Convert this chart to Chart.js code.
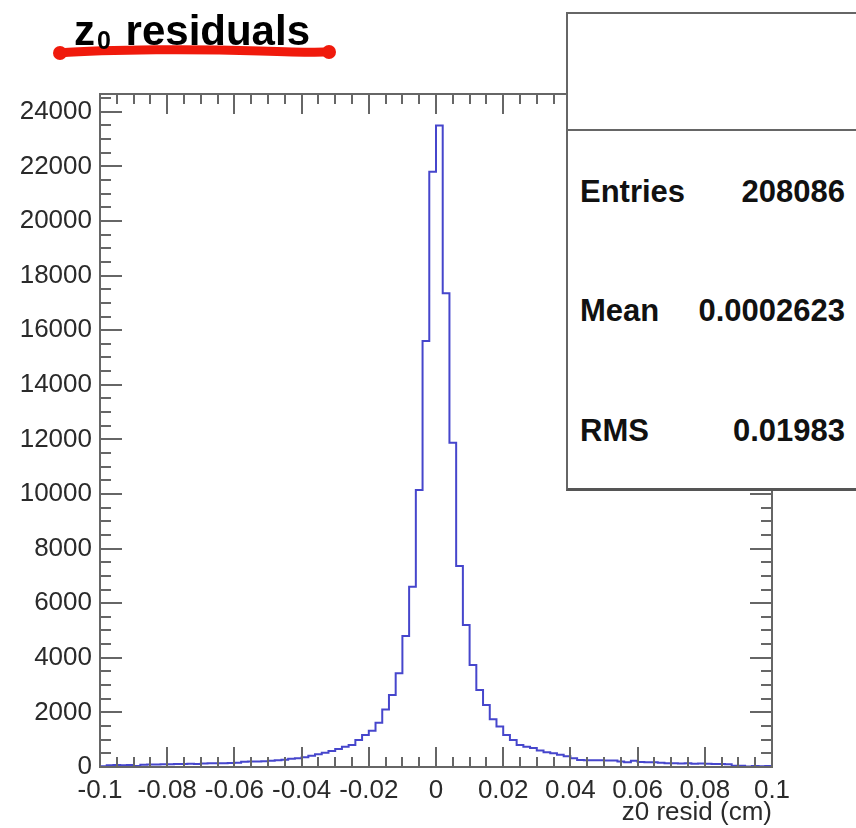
<!DOCTYPE html>
<html>
<head>
<meta charset="utf-8">
<script src="https://cdn.jsdelivr.net/npm/chart.js@4.4.1/dist/chart.umd.min.js"></script>
<style>
  body { margin: 0; background: #fff; }
  #marco { position: relative; width: 856px; height: 828px; overflow: hidden; background: #fff; font-family: "Liberation Sans", Arial, sans-serif; }
  #myChart { position: absolute; left: 0; top: 0; }
  #titulo { position: absolute; left: 74px; top: 10px; font-size: 42px; line-height: 42px; font-weight: bold; color: #000; white-space: nowrap; }
  #titulo .sub { font-size: 25px; position: relative; top: 4px; margin-left: 2px; margin-right: 3px; }
  #subrayado { position: absolute; left: 0; top: 0; }
  #stats { position: absolute; left: 566px; top: 12px; width: 320px; height: 474px; background: #fff; border: 2px solid #666; border-bottom: 3px solid #555; }
  #divisor { position: absolute; left: 566px; top: 129px; width: 300px; height: 0; border-top: 2px solid #666; }
  .st { position: absolute; font-size: 31px; line-height: 31px; font-weight: bold; color: #111; white-space: nowrap; }
  .nombre { left: 580px; }
  .valor { right: 11px; text-align: right; }
</style>
</head>
<body>
<div id="marco">
  <canvas id="myChart" width="856" height="828"></canvas>
  <svg id="subrayado" width="400" height="80">
    <path d="M59 53 C 110 49, 200 49, 260 51 S 320 52, 330 52" stroke="#f01a0c" stroke-width="9" fill="none" stroke-linecap="round"/>
    <circle cx="60" cy="53" r="7" fill="#f01a0c"/>
    <circle cx="329" cy="52" r="7" fill="#f01a0c"/>
  </svg>
  <div id="titulo">z<span class="sub">0</span> residuals</div>
  <div id="stats"></div>
  <div id="divisor"></div>
  <div class="st nombre" style="top:176px">Entries</div>
  <div class="st valor" style="top:176px">208086</div>
  <div class="st nombre" style="top:295px">Mean</div>
  <div class="st valor" style="top:295px">0.0002623</div>
  <div class="st nombre" style="top:415px">RMS</div>
  <div class="st valor" style="top:415px">0.01983</div>
</div>
<script>
// histograma z0: 100 bins entre -0.1 y 0.1
const xMin = -0.1
const xMax = 0.1
const anchoBin = 0.002
const cuentas = [
    30, 60, 70, 60, 70, 40, 80, 90, 90, 100,
    100, 110, 110, 120, 110, 130, 140, 140, 140, 150,
    160, 190, 200, 200, 210, 230, 250, 270, 300, 320,
    360, 410, 470, 520, 590, 660, 740, 810, 990, 1170,
    1330, 1620, 2110, 2640, 3430, 4800, 6600, 10150, 15600, 21800,
    23500, 17350, 11880, 7360, 5200, 3740, 2820, 2270, 1750, 1480,
    1170, 990, 810, 745, 700, 600, 540, 500, 450, 390,
    320, 260, 250, 250, 245, 240, 240, 200, 170, 230,
    180, 170, 170, 160, 140, 140, 130, 140, 120, 130,
    120, 110, 110, 100, 50, 50, 20, 40, 30, 40
]
const yMax = 24650
const etiquetasY = [0, 2000, 4000, 6000, 8000, 10000, 12000, 14000, 16000, 18000, 20000, 22000, 24000]
const etiquetasX = [-0.1, -0.08, -0.06, -0.04, -0.02, 0, 0.02, 0.04, 0.06, 0.08, 0.1]

// puntos en el borde izquierdo de cada bin + cierre en xMax
let puntos = []
for (let i = 0; i < cuentas.length; i++) {
    puntos.push({x: xMin + i * anchoBin, y: cuentas[i]})
}
puntos.push({x: xMax, y: cuentas[cuentas.length - 1]})

// marco y marcas de estilo ROOT (hacia dentro, en los 4 lados)
const marcoRoot = {
    id: 'marcoRoot',
    afterDatasetsDraw(chart) {
        const {ctx, chartArea: a, scales: {x, y}} = chart
        ctx.save()
        ctx.strokeStyle = '#666'
        ctx.lineWidth = 2
        ctx.strokeRect(a.left, a.top, a.right - a.left, a.bottom - a.top)
        ctx.beginPath()
        for (let v = 0; v <= yMax; v += 500) {
            const py = Math.round(y.getPixelForValue(v))
            const largo = v % 2000 === 0 ? 22 : 11
            ctx.moveTo(a.left, py); ctx.lineTo(a.left + largo, py)
            ctx.moveTo(a.right, py); ctx.lineTo(a.right - largo, py)
        }
        for (let i = 0; i <= 40; i++) {
            const px = Math.round(x.getPixelForValue(xMin + i * 0.005))
            const largo = i % 4 === 0 ? 20 : 10
            ctx.moveTo(px, a.bottom); ctx.lineTo(px, a.bottom - largo)
            ctx.moveTo(px, a.top); ctx.lineTo(px, a.top + largo)
        }
        ctx.stroke()
        ctx.restore()
    }
}

Chart.defaults.font.family = '"Liberation Sans", Arial, sans-serif'

function generarGrafico(){
    let grafico = document.getElementById('myChart')
    let myChart = new Chart(grafico, {
        type: 'line',
        data: {
            datasets: [{
                label: 'z0 resid',
                data: puntos,
                stepped: 'before',
                borderColor: '#4646cc',
                borderWidth: 2,
                pointRadius: 0,
                fill: false
            }]
        },
        options: {
            responsive: false,
            animation: false,
            layout: {padding: {top: 94, right: 84, left: 0, bottom: 0}},
            plugins: {
                legend: {display: false},
                tooltip: {enabled: false}
            },
            scales: {
                x: {
                    type: 'linear',
                    min: xMin,
                    max: xMax,
                    grid: {display: false},
                    border: {display: false},
                    afterBuildTicks(escala) { escala.ticks = etiquetasX.map(v => ({value: v})) },
                    ticks: {
                        maxRotation: 0,
                        autoSkip: false,
                        padding: 0,
                        color: '#2a2a2a',
                        font: {size: 26},
                        callback: v => String(Math.round(v * 1000) / 1000)
                    },
                    title: {
                        display: true,
                        text: 'z0 resid (cm)',
                        align: 'end',
                        color: '#2a2a2a',
                        font: {size: 26},
                        padding: {top: 0, bottom: 0}
                    },
                    afterFit(escala) { escala.height = 61 }
                },
                y: {
                    min: 0,
                    max: yMax,
                    grid: {display: false},
                    border: {display: false},
                    afterBuildTicks(escala) { escala.ticks = etiquetasY.map(v => ({value: v})) },
                    ticks: {
                        autoSkip: false,
                        padding: 0,
                        color: '#2a2a2a',
                        font: {size: 26},
                        callback: v => String(v)
                    },
                    afterFit(escala) { escala.width = 100 }
                }
            }
        },
        plugins: [marcoRoot]
    })
}
generarGrafico()
</script>
</body>
</html>
